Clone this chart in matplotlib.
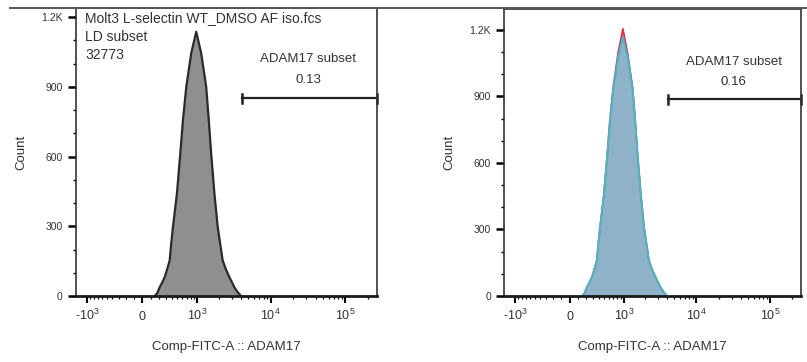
import numpy as np
import matplotlib
matplotlib.use("Agg")
import matplotlib.pyplot as plt
from matplotlib.lines import Line2D

plt.rcParams['font.family'] = ['Liberation Sans', 'DejaVu Sans']

# FITC intensity and cell counts
fitc = [151, 182, 215, 250, 285, 322, 362, 387, 417, 490, 557, 613, 691, 820,
        969, 1140, 1341, 1457, 1570, 1740, 1931, 2086, 2257, 2493, 2778, 3003,
        3241, 3561, 3986]
count_iso = [0, 12, 38, 58, 81, 115, 153, 225, 297, 442, 614, 755, 900, 1045,
             1137, 1045, 900, 755, 614, 442, 297, 225, 153, 115, 81, 60,
             38, 18, 0]
count_blue = [0, 12, 39, 60, 84, 118, 158, 232, 306, 455, 632, 778, 927, 1075,
              1168, 1075, 927, 778, 632, 455, 306, 232, 158, 118, 84, 62,
              39, 19, 0]
count_red = [0, 13, 40, 61, 85, 120, 160, 235, 310, 460, 640, 790, 940, 1095,
             1205, 1090, 935, 785, 635, 458, 308, 233, 159, 119, 85, 62,
             40, 19, 0]

gate_lo, gate_hi = 4150, 262144
gate_pct = ["0.13", "0.16"]
gate_y = [851, 887]
ylims = [1238, 1293]

header = ['Molt3 L-selectin WT_DMSO AF iso.fcs', 'LD subset', '32773']

xticks = [-1000, 0, 1000, 10000, 100000]
xticklabels = [r'-$\mathregular{10^3}$', '0', r'$\mathregular{10^3}$',
               r'$\mathregular{10^4}$', r'$\mathregular{10^5}$']
yticks = [0, 300, 600, 900, 1200]
yticklabels = ['0', '300', '600', '900', '1.2K']

# minor ticks on the biexponential axis
xminor = ([-v for v in range(100, 1000, 100)] + list(range(100, 1000, 100)) +
          list(range(2000, 10000, 1000)) + list(range(20000, 100000, 10000)) +
          [200000])

W = 380.0
def fwd(x):
    return np.arcsinh(np.asarray(x) / W)
def inv(y):
    return W * np.sinh(np.asarray(y))

fig = plt.figure(figsize=(8.07, 3.62), dpi=100)
ax1 = fig.add_axes([76 / 807, 66 / 362, 300.7 / 807, 287.7 / 362])
ax2 = fig.add_axes([504.3 / 807, 66 / 362, 296.7 / 807, 286.7 / 362])

# continuous line along the top of the figure
fig.add_artist(Line2D([10 / 807, 1], [354.5 / 362, 354.5 / 362],
                      color='#555555', lw=1.4, transform=fig.transFigure))

for i, ax in enumerate([ax1, ax2]):
    ax.set_xscale('function', functions=(fwd, inv))
    if i == 0:
        ax.fill_between(fitc, count_iso, color='#8f8f8f', lw=0)
        ax.plot(fitc, count_iso, color='#2a2a2a', lw=1.6)
    else:
        ax.fill_between(fitc, count_red, color='#e85a62', lw=0)
        ax.plot(fitc, count_red, color='#e03040', lw=1.2)
        ax.fill_between(fitc, count_blue, color='#8fb2c8', lw=0)
        ax.plot(fitc, count_blue, color='#45b8cc', lw=1.4)

    ax.set_xlim(-1437, 262144)
    ax.set_ylim(0, ylims[i])
    ax.set_xticks(xticks)
    ax.set_xticklabels(xticklabels, fontsize=9, color='#333333')
    for lbl in ax.get_xticklabels():
        lbl.set_verticalalignment('baseline')
    ax.set_xticks(xminor, minor=True)
    ax.set_yticks(yticks)
    ax.set_yticklabels(yticklabels, fontsize=7.5, color='#333333')
    ax.set_yticks(range(100, 1300, 100), minor=True)
    ax.tick_params(axis='x', which='major', length=5, width=1.5, direction='out', pad=12)
    ax.tick_params(axis='x', which='minor', length=2.5, width=0.9, direction='out')
    ax.tick_params(axis='y', which='major', length=5.5, width=1.8, direction='out', pad=4)
    ax.tick_params(axis='y', which='minor', length=2.5, width=1.0, direction='out')
    for s in ax.spines.values():
        s.set_color('#333333')
        s.set_linewidth(1.2)
    ax.spines['bottom'].set_linewidth(2)
    ax.spines['bottom'].set_color('#1a1a1a')

    ax.set_xlabel('Comp-FITC-A :: ADAM17', fontsize=9.5, color='#333333', labelpad=13)
    ax.set_ylabel('Count', fontsize=9.5, color='#333333', labelpad=10)

    # gate
    ax.plot([gate_lo, gate_hi], [gate_y[i], gate_y[i]], color='#222222', lw=1.6,
            clip_on=False)
    ax.plot([gate_lo, gate_lo], [gate_y[i] - 20, gate_y[i] + 20], color='#222222',
            lw=1.8, clip_on=False)
    ax.plot([gate_hi, gate_hi], [gate_y[i] - 20, gate_y[i] + 20], color='#222222',
            lw=1.8, clip_on=False)
    ax.text(32000, gate_y[i] + 168, 'ADAM17 subset', ha='center', va='center',
            fontsize=9.5, color='#333333')
    ax.text(32000, gate_y[i] + 80, gate_pct[i], ha='center', va='center',
            fontsize=9.5, color='#333333')

# sample header, one line per text
for k, line in enumerate(header):
    ax1.text(0.03, 0.965 - k * 0.064, line, transform=ax1.transAxes,
             ha='left', va='center', fontsize=10, color='#333333')

fig.savefig('out.png', dpi=100)
